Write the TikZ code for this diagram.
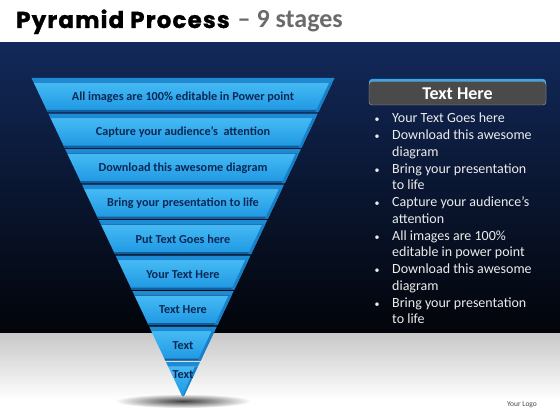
\documentclass[tikz,border=0pt]{standalone}
\usepackage{fontspec}
\usetikzlibrary{fadings}
\newfontfamily\cf{Carlito}
\newfontfamily\pop{Poppins}[LetterSpace=5, BoldFeatures={FakeBold=1.2}]
\definecolor{bandtop}{HTML}{12295A}
\definecolor{bandmid}{HTML}{0A1A40}
\definecolor{bandbot}{HTML}{020409}
\definecolor{floortop}{HTML}{C8C8C8}
\definecolor{facetop}{HTML}{45BAF4}
\definecolor{facebot}{HTML}{1E97E2}
\definecolor{topface}{HTML}{1F8AD4}
\definecolor{edgeline}{HTML}{115E9E}
\definecolor{sideface}{HTML}{1780C8}
\definecolor{stagetxt}{HTML}{0A2856}
\definecolor{hdrgray}{HTML}{4A4A4A}
\definecolor{hdrblue}{HTML}{34A8EA}
\definecolor{bullettxt}{HTML}{ECECEC}
\tikzfading[name=softedge, inner color=transparent!0, outer color=transparent!100]
\tikzset{
  stagelabel/.style={font=\cf\bfseries\fontsize{12.2}{14}\selectfont, text=stagetxt, inner sep=0pt},
  bul/.style={font=\cf\fontsize{14}{16.75}\selectfont, text=bullettxt, inner sep=0pt, anchor=base west, align=left},
  bulmark/.style={font=\cf\fontsize{10}{12}\selectfont, text=bullettxt, inner sep=0pt, anchor=base},
}
\begin{document}
\begin{tikzpicture}[x=1pt,y=-1pt]
\useasboundingbox (0,0) rectangle (560,420);
\fill[white] (0,0) rectangle (560,420);
\shade[top color=bandtop, middle color=bandmid, bottom color=bandbot] (0,42.5) rectangle (560,333);
\shade[top color=floortop, bottom color=white] (0,333) rectangle (560,400);
\fill[black!75, path fading=softedge] (183,401) ellipse (68 and 7);
% title
\node[anchor=base west, inner sep=0pt] (title) at (16,28)
  {{\pop\bfseries\fontsize{23}{26}\selectfont Pyramid Process}\hspace{8pt}{\cf\bfseries\fontsize{26}{28}\selectfont\color{black!58} – 9 stages}};
% pyramid
\foreach \stxt [count=\i from 0] in {All images are 100\% editable in Power point,
  Capture your audience’s~ attention, Download this awesome diagram,
  Bring your presentation to life, Put Text Goes here, Your Text Here,
  Text Here, Text, Text} {
  \pgfmathsetmacro\pya{78+35.5*\i}
  \pgfmathsetmacro\pyb{min(\pya+34,398)}
  \pgfmathsetmacro\pyc{\pya+4.5}
  \pgfmathsetmacro\pye{\pyb-2}
  \pgfmathsetmacro\pwa{0.47344*(398-\pya)}
  \pgfmathsetmacro\pwb{0.47344*(398-\pyb)}
  \pgfmathsetmacro\pwc{0.47344*(398-\pyc)}
  \pgfmathsetmacro\pwe{0.47344*(398-\pye)}
  \pgfmathsetmacro\pwd{max(\pwb-3,0)}
  \shade[top color=facetop, bottom color=facebot]
    (183-\pwc,\pyc) -- (183+\pwc,\pyc) -- (183+\pwb,\pyb) -- (183-\pwb,\pyb) -- cycle;
  \ifnum\i<8
    \fill[edgeline] (183-\pwe,\pye) -- (183+\pwe,\pye) -- (183+\pwb,\pyb) -- (183-\pwb,\pyb) -- cycle;
  \fi
  \fill[sideface] (183+\pwc,\pyc) -- (183+\pwb,\pyb) -- (183+\pwd,\pyb) -- (183+\pwc-3,\pyc) -- cycle;
  \fill[topface] (183-\pwa,\pya) -- (183+\pwa,\pya) -- (183+\pwc,\pyc) -- (183-\pwc,\pyc) -- cycle;
  \pgfmathsetmacro\pty{\i==8 ? \pya+12.5 : \pya+19}
  \node[stagelabel] (s\i) at (183,\pty) {\stxt};
}
% right panel header
\fill[hdrblue, rounded corners=3pt] (369,79) rectangle (546,103);
\filldraw[fill=hdrgray, draw=black!35, rounded corners=3pt] (369,81.5) rectangle (546,105);
\node[font=\cf\bfseries\fontsize{18}{20}\selectfont, text=white] (hdr) at (457.5,94) {Text Here};
% bullets (first-line baseline / last-line baseline)
\foreach \yy/\yl/\txt [count=\k] in {122.5/122.5/{Your Text Goes here},
  139.5/156.25/{Download this awesome\\diagram},
  173/189.75/{Bring your presentation\\to life},
  206.5/223.25/{Capture your audience’s\\attention},
  240/256.75/{All images are 100\%\\editable in power point},
  273.5/290.25/{Download this awesome\\diagram},
  307/323.75/{Bring your presentation\\to life}} {
  \node[bulmark] (b\k) at (377,\yy) {•};
  \node[bul] (t\k) at (392,\yl) {\txt};
}
\node[font=\cf\fontsize{7.5}{9}\selectfont, text=black!70, inner sep=0pt] (logo) at (522,405) {Your Logo};
\end{tikzpicture}
\end{document}
